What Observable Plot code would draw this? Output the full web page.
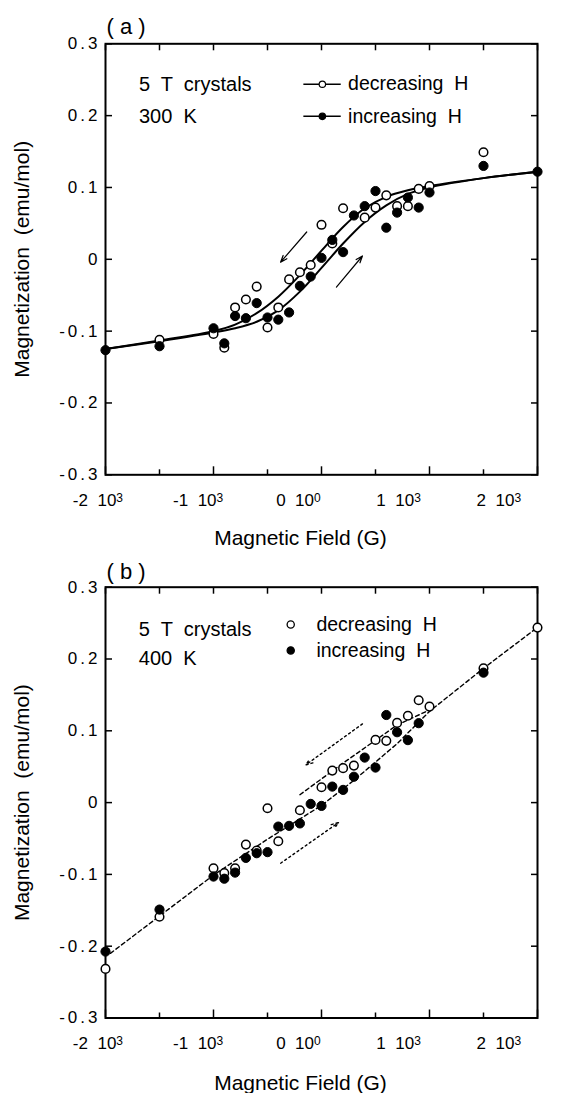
<!DOCTYPE html>
<html>
<head>
<meta charset="utf-8">
<script src="https://cdn.jsdelivr.net/npm/d3@7"></script>
<script src="https://cdn.jsdelivr.net/npm/@observablehq/plot@0.6"></script>
<style>
  body { margin: 0; background: #fff; }
  #chart svg { display: block; }
</style>
</head>
<body>
<div id="chart"></div>
<script>
// ---------------- Axis ticks ----------------
const xTickVals = [-2000, -1000, 0, 1000, 2000];
const xTickText = ["-2  10^3", "-1  10^3", "0  10^0", "1  10^3", "2  10^3"];
const xMinorVals = [-1500, -500, 500, 1500];
const xTopVals = [-2000, -1500, -1000, -500, 0, 500, 1000, 1500, 2000];
const yTickVals = [-0.3, -0.2, -0.1, 0, 0.1, 0.2, 0.3];
const yTickText = ["-0.3", "-0.2", "-0.1", "0", "0.1", "0.2", "0.3"];

// ---------------- Panel (a): 300 K ----------------
const aDecH = [-1500, -1000, -900, -800, -700, -600, -500, -400, -300, -200, -100, 0, 100, 200, 400, 500, 600, 700, 800, 900, 1000, 1500];
const aDecM = [-0.112, -0.104, -0.123, -0.067, -0.056, -0.038, -0.095, -0.067, -0.028, -0.018, -0.008, 0.048, 0.022, 0.071, 0.058, 0.072, 0.089, 0.074, 0.074, 0.098, 0.102, 0.149];
const aIncH = [-2000, -1500, -1000, -900, -800, -700, -600, -500, -400, -300, -200, -100, 0, 100, 200, 300, 400, 500, 600, 700, 800, 900, 1000, 1500, 2000];
const aIncM = [-0.1265, -0.121, -0.096, -0.117, -0.079, -0.082, -0.061, -0.081, -0.084, -0.074, -0.037, -0.024, 0.002, 0.027, 0.010, 0.061, 0.074, 0.095, 0.044, 0.065, 0.086, 0.072, 0.093, 0.130, 0.122];
// fitted curves
const aCurveH = [-2000, -1500, -1000, -800, -600, -400, -200, 0, 200, 400, 600, 800, 1000, 1500, 2000];
const aCurveDecM = [-0.125, -0.113, -0.100, -0.091, -0.075, -0.052, -0.022, 0.012, 0.045, 0.071, 0.087, 0.096, 0.102, 0.113, 0.122];
const aCurveIncM = [-0.125, -0.114, -0.102, -0.096, -0.087, -0.071, -0.045, -0.012, 0.022, 0.052, 0.075, 0.091, 0.100, 0.113, 0.122];
// direction arrows [x1, y1, x2, y2]
const aArrows = [[-137, 0.038, -379, -0.004], [138, -0.0386, 379, 0.0046]];

// ---------------- Panel (b): 400 K ----------------
const bDecH = [-2000, -1500, -1000, -900, -800, -700, -600, -500, -400, -200, 0, 100, 200, 300, 500, 600, 700, 800, 900, 1000, 1500, 2000];
const bDecM = [-0.2316, -0.159, -0.0914, -0.098, -0.0914, -0.0585, -0.0668, -0.0078, -0.0538, -0.0106, 0.0214, 0.0446, 0.048, 0.0515, 0.0873, 0.086, 0.111, 0.121, 0.1426, 0.1337, 0.187, 0.2437];
const bIncH = [-2000, -1500, -1000, -900, -800, -700, -600, -500, -400, -300, -200, -100, 0, 100, 200, 300, 400, 500, 600, 700, 800, 900, 1500];
const bIncM = [-0.2075, -0.149, -0.103, -0.106, -0.0975, -0.077, -0.0705, -0.069, -0.0334, -0.0324, -0.029, -0.0018, -0.0046, 0.0223, 0.0177, 0.036, 0.0627, 0.0488, 0.122, 0.098, 0.087, 0.1106, 0.181];
// dashed guide lines
const bLineIncH = [-1955, -1000, -500, 0, 300, 700, 1000, 1500, 2000];
const bLineIncM = [-0.210, -0.101, -0.051, -0.004, 0.031, 0.082, 0.127, 0.187, 0.244];
const bLineDecH = [-200, 200, 700, 1000];
const bLineDecM = [0.011, 0.055, 0.108, 0.129];
const bArrows = [[379, 0.1096, -146, 0.0525], [-378, -0.0844, 157, -0.0279]];

const FONT = "'Liberation Sans', Arial, Helvetica, sans-serif";
const toPts = (H, M) => H.map((h, i) => ({H: h, M: M[i]}));
const toArrows = (A) => A.map(([x1, y1, x2, y2]) => ({x1, y1, x2, y2}));
// the original figure spaces its x tick labels slightly tighter than the ticks
const xLabelPos = (v) => v * 0.928 - 214;

function panel(cfg) {
  const marks = [
    Plot.frame({stroke: "black", strokeWidth: 2}),
    // left labels
    Plot.axisY(yTickVals, {anchor: "left", tickSize: 0, tickPadding: 5, fontSize: 17,
      tickFormat: d => yTickText[yTickVals.indexOf(d)], label: null}),
    // inward ticks on all sides
    Plot.axisY(yTickVals, {anchor: "left", tickSize: 7, dx: 7, strokeWidth: 1.5, tickFormat: () => "", label: null}),
    Plot.axisY(yTickVals, {anchor: "right", tickSize: 7, dx: -7, strokeWidth: 1.5, tickFormat: () => "", label: null}),
    Plot.axisX(xTopVals, {anchor: "top", tickSize: 6, dy: 6, strokeWidth: 1.5, tickFormat: () => "", label: null}),
    Plot.axisX(xTickVals, {anchor: "bottom", tickSize: 8, dy: -8, strokeWidth: 1.5, tickFormat: () => "", label: null}),
    Plot.axisX(xMinorVals, {anchor: "bottom", tickSize: 5, dy: -5, strokeWidth: 1.5, tickFormat: () => "", label: null}),
    // bottom labels
    Plot.text(xTickVals, {x: xLabelPos, text: (d, i) => xTickText[i], frameAnchor: "bottom",
      lineAnchor: "middle", textAnchor: "middle", dy: 26, fontSize: 17}),
    Plot.text(["Magnetic Field (G)"], {frameAnchor: "bottom", lineAnchor: "middle", textAnchor: "middle",
      dx: -21, dy: cfg.xLabelDy, fontSize: 21}),
    Plot.text(["Magnetization  (emu/mol)"], {frameAnchor: "left", lineAnchor: "middle", textAnchor: "middle",
      rotate: -90, dx: -83, fontSize: 21, ariaLabel: "ylabel"}),
    Plot.text([cfg.tag], {frameAnchor: "top-left", lineAnchor: "middle", textAnchor: "start",
      dx: 1, dy: cfg.tagDy, fontSize: 22}),
    ...cfg.extra,
    Plot.dot(cfg.dec, {x: "H", y: "M", r: 4.3, fill: "white", stroke: "black", strokeWidth: 1.5}),
    Plot.dot(cfg.inc, {x: "H", y: "M", r: 4.6, fill: "black", stroke: "black", strokeWidth: 1})
  ];
  const svg = Plot.plot({
    width: 563, height: cfg.height,
    marginLeft: 105, marginRight: 26, marginTop: cfg.marginTop, marginBottom: cfg.marginBottom,
    style: {fontFamily: FONT, background: "white", color: "black", overflow: "visible"},
    x: {domain: [-2000, 2000], label: null},
    y: {domain: [-0.3, 0.3], label: null},
    marks
  });
  // typographic touches: letter spacing on y labels, superscripts on x labels
  d3.select(svg).selectAll('g[aria-label="y-axis tick label"] text').attr("letter-spacing", 3);
  d3.select(svg).selectAll('g[aria-label="ylabel"] text').attr("letter-spacing", 2.4);
  d3.select(svg).selectAll("text").each(function () {
    const t = this.textContent;
    if (t.includes("^")) {
      const [b, s] = t.split("^");
      const el = d3.select(this);
      el.text(b);
      el.append("tspan").attr("dy", "-0.38em").attr("font-size", 12).text(s);
    }
  });
  return svg;
}

const legendRowsA = [
  {label: "decreasing  H", fill: "white", M: 0.2437},
  {label: "increasing  H", fill: "black", M: 0.199}
];
const legendRowsB = [
  {label: "decreasing  H", fill: "white", M: 0.248},
  {label: "increasing  H", fill: "black", M: 0.212}
];

const svgA = panel({
  height: 550, marginTop: 43.3, marginBottom: 75.7, tag: "( a )", tagDy: -16.6, xLabelDy: 63.5,
  dec: toPts(aDecH, aDecM), inc: toPts(aIncH, aIncM),
  extra: [
    Plot.line(toPts(aCurveH, aCurveDecM), {x: "H", y: "M", curve: "catmull-rom", stroke: "black", strokeWidth: 2}),
    Plot.line(toPts(aCurveH, aCurveIncM), {x: "H", y: "M", curve: "catmull-rom", stroke: "black", strokeWidth: 2}),
    Plot.arrow(toArrows(aArrows), {x1: "x1", y1: "y1", x2: "x2", y2: "y2", stroke: "black", strokeWidth: 1.2, headLength: 9, headAngle: 40}),
    Plot.text(["5  T  crystals", "300  K"], {x: -1690, y: [0.2437, 0.198], textAnchor: "start", lineAnchor: "middle", fontSize: 20}),
    Plot.link(legendRowsA, {x1: -168, x2: 178, y1: "M", y2: "M", stroke: "black", strokeWidth: 1.5}),
    Plot.dot(legendRowsA, {x: 8, y: "M", r: 3.2, fill: "fill", stroke: "black", strokeWidth: 1.2}),
    Plot.text(legendRowsA, {x: 246, y: "M", text: "label", textAnchor: "start", lineAnchor: "middle", fontSize: 19.5})
  ]
});

const svgB = panel({
  height: 543, marginTop: 36.7, marginBottom: 75.5, tag: "( b )", tagDy: -15.5, xLabelDy: 65.5,
  dec: toPts(bDecH, bDecM), inc: toPts(bIncH, bIncM),
  extra: [
    Plot.line(toPts(bLineIncH, bLineIncM), {x: "H", y: "M", stroke: "black", strokeWidth: 1.4, strokeDasharray: "4,3"}),
    Plot.line(toPts(bLineDecH, bLineDecM), {x: "H", y: "M", stroke: "black", strokeWidth: 1.4, strokeDasharray: "4,3"}),
    Plot.arrow(toArrows(bArrows), {x1: "x1", y1: "y1", x2: "x2", y2: "y2", stroke: "black", strokeWidth: 1.4, strokeDasharray: "2,3", headLength: 8, headAngle: 40}),
    Plot.text(["5  T  crystals", "400  K"], {x: -1691, y: [0.2405, 0.200], textAnchor: "start", lineAnchor: "middle", fontSize: 20}),
    Plot.dot(legendRowsB, {x: -285, y: "M", r: 3.6, fill: "fill", stroke: "black", strokeWidth: 1.3}),
    Plot.text(legendRowsB, {x: -47, y: "M", text: "label", textAnchor: "start", lineAnchor: "middle", fontSize: 19.5})
  ]
});

document.getElementById("chart").append(svgA, svgB);
</script>
</body>
</html>
